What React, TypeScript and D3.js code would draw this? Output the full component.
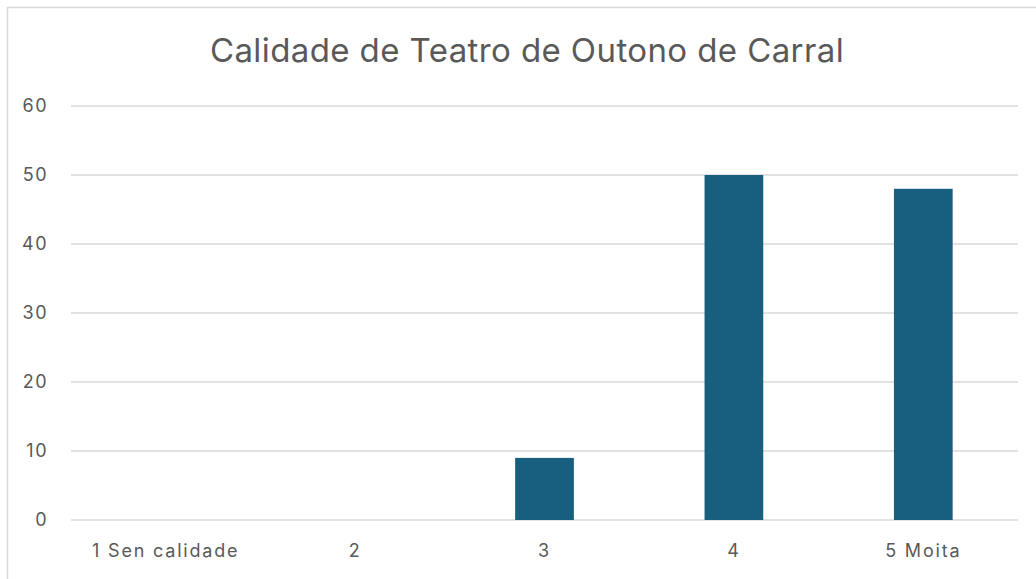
import React, { useEffect, useRef } from 'react';
import * as d3 from 'd3';

const categories = ['1 Sen calidade', '2', '3', '4', '5 Moita'];
const values = [0, 0, 9, 50, 48];
const yTicks = [0, 10, 20, 30, 40, 50, 60];
const title = 'Calidade de Teatro de Outono de Carral';

const W = 1036;
const H = 579;

export default function App() {
  const svgRef = useRef<SVGSVGElement>(null);

  useEffect(() => {
    if (!svgRef.current) return;
    const svg = d3.select(svgRef.current);
    svg.selectAll('*').remove();

    const font = 'Inter, "Noto Sans", sans-serif';
    const textColor = '#595959';

    // outer frame
    svg.append('rect')
      .attr('x', 7.5).attr('y', 7.5)
      .attr('width', W + 10).attr('height', H + 10)
      .attr('fill', '#fff')
      .attr('stroke', '#d9d9d9')
      .attr('stroke-width', 1.5);

    const margin = { top: 106, right: 18, bottom: 59, left: 71 };
    const width = W - margin.left - margin.right;
    const height = H - margin.top - margin.bottom;

    const g = svg.append('g')
      .attr('transform', `translate(${margin.left},${margin.top})`);

    const x = d3.scaleBand()
      .domain(categories)
      .range([0, width])
      .paddingInner(0.69)
      .paddingOuter(0.345);

    const y = d3.scaleLinear()
      .domain([0, 60])
      .range([height, 0]);

    // gridlines
    g.selectAll('.grid')
      .data(yTicks)
      .join('line')
      .attr('x1', 0).attr('x2', width)
      .attr('y1', d => y(d)).attr('y2', d => y(d))
      .attr('stroke', '#d9d9d9')
      .attr('stroke-width', 1.5);

    // y labels
    g.selectAll('.ylab')
      .data(yTicks)
      .join('text')
      .attr('x', -23)
      .attr('y', d => y(d))
      .attr('dy', '0.35em')
      .attr('text-anchor', 'end')
      .attr('fill', textColor)
      .style('font-family', font)
      .style('font-size', '18px')
      .style('letter-spacing', '1.5px')
      .text(d => d);

    // bars
    g.selectAll('.bar')
      .data(values)
      .join('rect')
      .attr('x', (d, i) => x(categories[i]) || 0)
      .attr('y', d => y(d))
      .attr('width', x.bandwidth())
      .attr('height', d => height - y(d))
      .attr('fill', '#175E7F');

    // x labels
    g.selectAll('.xlab')
      .data(categories)
      .join('text')
      .attr('x', d => (x(d) || 0) + x.bandwidth() / 2)
      .attr('y', height + 31)
      .attr('dy', '0.35em')
      .attr('text-anchor', 'middle')
      .attr('fill', textColor)
      .style('font-family', font)
      .style('font-size', '18px')
      .style('letter-spacing', '1.8px')
      .text(d => d);

    // title
    svg.append('text')
      .attr('x', 527)
      .attr('y', 50)
      .attr('dy', '0.35em')
      .attr('text-anchor', 'middle')
      .attr('fill', textColor)
      .style('font-family', font)
      .style('font-size', '33px')
      .style('letter-spacing', '0.4px')
      .text(title);
  }, []);

  return (
    <svg
      ref={svgRef}
      width={W}
      height={H}
      style={{ position: 'absolute', left: 0, top: 0, background: '#fff' }}
    />
  );
}
